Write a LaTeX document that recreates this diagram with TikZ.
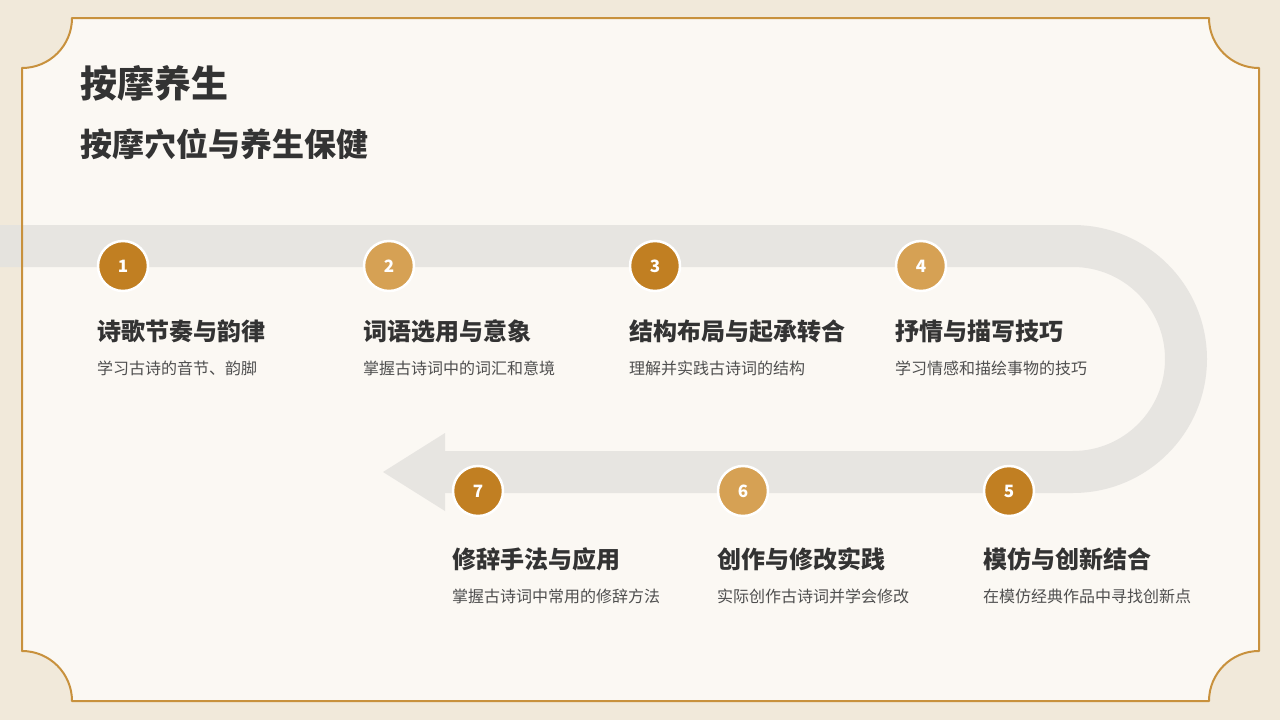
\documentclass[tikz,border=0pt]{standalone}
\usepackage{fontspec}
\newfontfamily\cjk{Noto Sans CJK SC}
\definecolor{outerbg}{HTML}{F1E9DA}
\definecolor{innerbg}{HTML}{FBF8F3}
\definecolor{framec}{HTML}{C8913D}
\definecolor{bandc}{HTML}{E4E2DF}
\definecolor{darkc}{HTML}{C17F22}
\definecolor{lightc}{HTML}{D6A154}
\definecolor{titlec}{HTML}{333333}
\definecolor{descc}{HTML}{4F4F4F}
\tikzset{
  numdark/.style={circle, fill=darkc, draw=white, line width=2.5pt, minimum size=50pt, inner sep=0pt, text=white, font=\cjk\bfseries\fontsize{17}{19}\selectfont},
  numlight/.style={numdark, fill=lightc},
  stitle/.style={anchor=west, inner sep=0pt, text=titlec, font=\cjk\bfseries\fontsize{24}{28}\selectfont},
  sdesc/.style={anchor=west, inner sep=0pt, text=descc, font=\cjk\fontsize{16}{19}\selectfont},
  panel/.style={},
}
\def\panelpath{(72,18) -- (1209,18) arc[start angle=180,end angle=270,radius=50pt]
  -- (1259,651) arc[start angle=90,end angle=180,radius=50pt]
  -- (72,701) arc[start angle=0,end angle=90,radius=50pt]
  -- (22,68) arc[start angle=270,end angle=360,radius=50pt] -- cycle}
\begin{document}
\begin{tikzpicture}[x=1pt,y=-1pt]
\useasboundingbox (0,0) rectangle (1280,720);
\fill[outerbg] (0,0) rectangle (1280,720);
% inner panel
\fill[innerbg] \panelpath;
% track band
\begin{scope}[transparency group, opacity=0.85]
\draw[bandc, line width=42pt] (0,246) -- (1073,246) arc[start angle=90,end angle=-90,radius=113pt] -- (445,472);
\fill[bandc] (445,433) -- (383,472) -- (445,511) -- cycle;
\end{scope}
% frame line
\draw[framec, line width=2pt, line join=round] \panelpath;
% headings
\node[anchor=west, inner sep=0pt, text=titlec, font=\cjk\bfseries\fontsize{37}{41}\selectfont] (h1) at (80,83) {按摩养生};
\node[anchor=west, inner sep=0pt, text=titlec, font=\cjk\bfseries\fontsize{32}{36}\selectfont] (h2) at (80,144) {按摩穴位与养生保健};
% steps top row
\node[numdark]  (n1) at (123,266) {1};
\node[numlight] (n2) at (389,266) {2};
\node[numdark]  (n3) at (655,266) {3};
\node[numlight] (n4) at (921,266) {4};
\node[stitle] (t1) at (97,331) {诗歌节奏与韵律};
\node[sdesc]  (d1) at (97,368) {学习古诗的音节、韵脚};
\node[stitle] (t2) at (363,331) {词语选用与意象};
\node[sdesc]  (d2) at (363,368) {掌握古诗词中的词汇和意境};
\node[stitle] (t3) at (629,331) {结构布局与起承转合};
\node[sdesc]  (d3) at (629,368) {理解并实践古诗词的结构};
\node[stitle] (t4) at (895,331) {抒情与描写技巧};
\node[sdesc]  (d4) at (895,368) {学习情感和描绘事物的技巧};
% steps bottom row
\node[numdark]  (n7) at (478,491) {7};
\node[numlight] (n6) at (743,491) {6};
\node[numdark]  (n5) at (1009,491) {5};
\node[stitle] (t7) at (452,559) {修辞手法与应用};
\node[sdesc]  (d7) at (452,596) {掌握古诗词中常用的修辞方法};
\node[stitle] (t6) at (717,559) {创作与修改实践};
\node[sdesc]  (d6) at (717,596) {实际创作古诗词并学会修改};
\node[stitle] (t5) at (983,559) {模仿与创新结合};
\node[sdesc]  (d5) at (983,596) {在模仿经典作品中寻找创新点};
\end{tikzpicture}
\end{document}
